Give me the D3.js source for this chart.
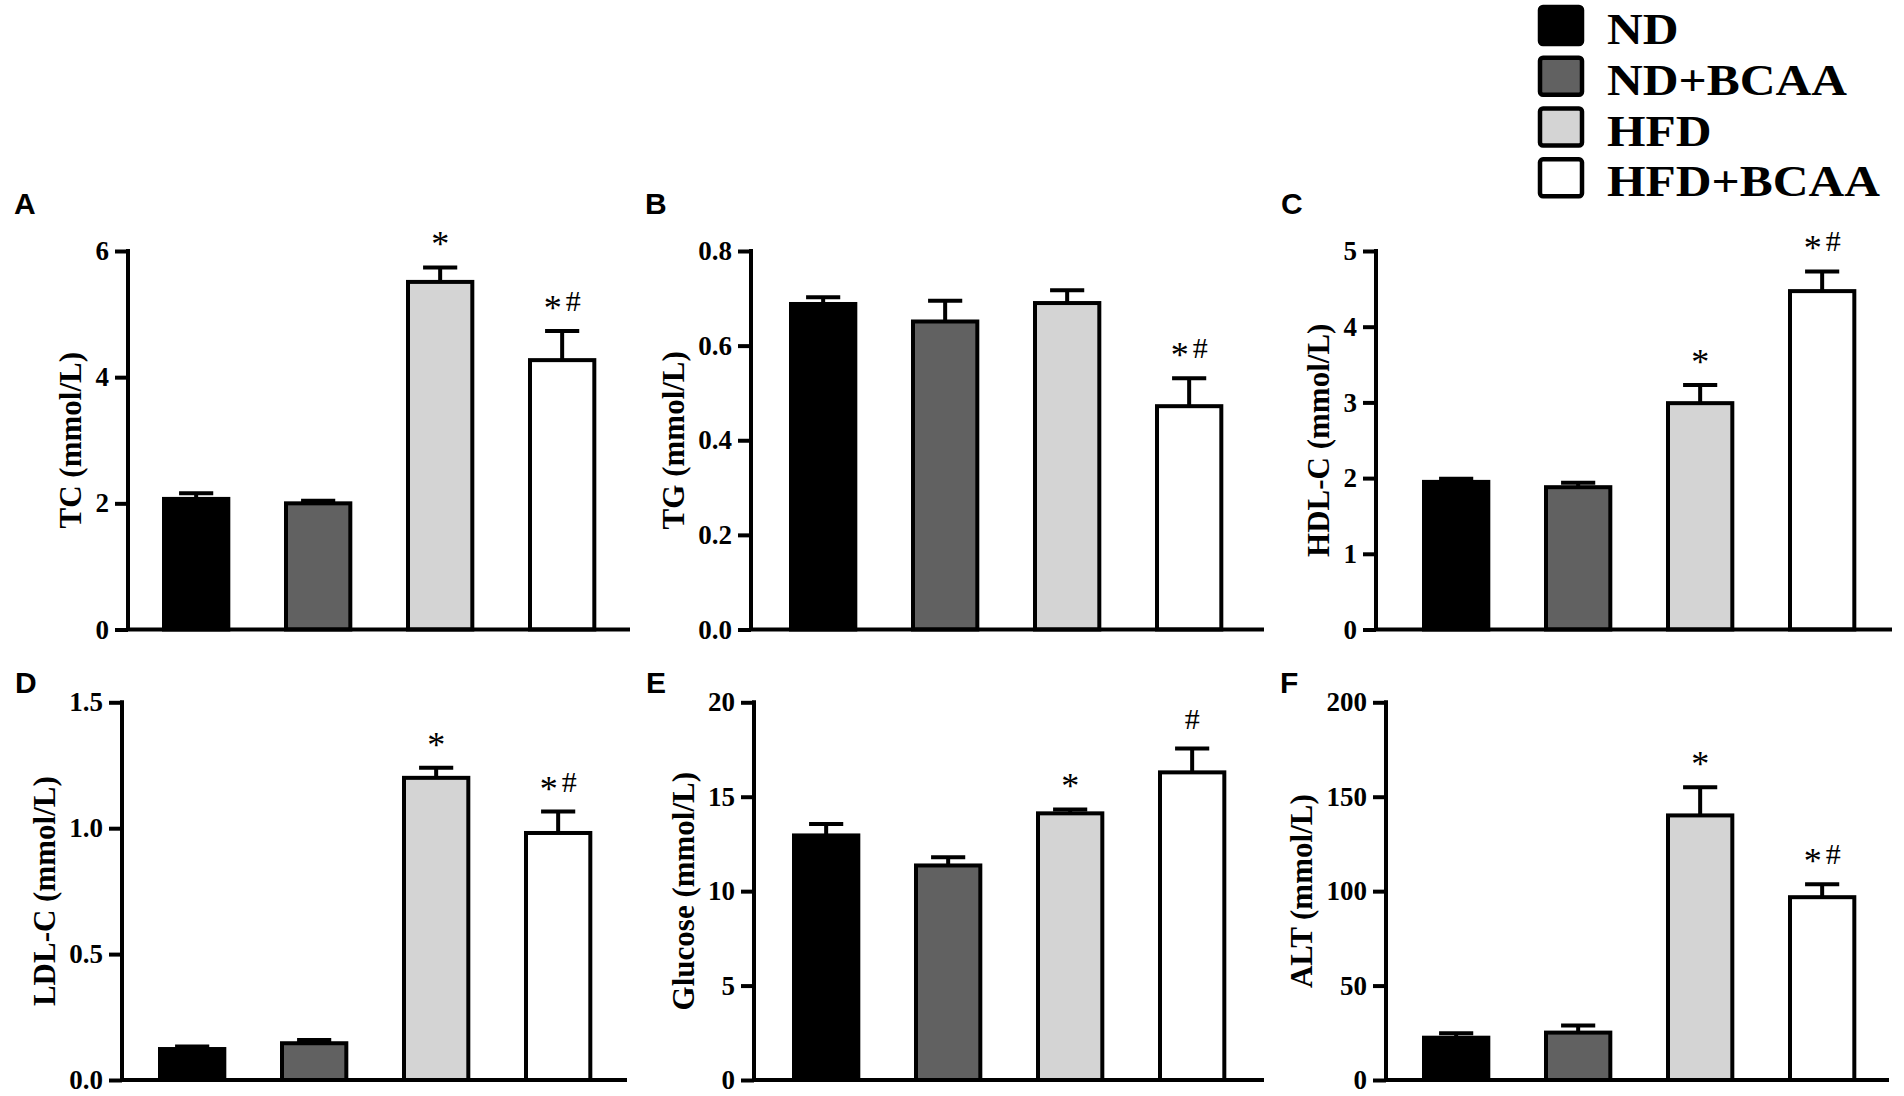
<!DOCTYPE html>
<html>
<head>
<meta charset="utf-8">
<script src="https://cdn.jsdelivr.net/npm/d3@7"></script>
<style>
  body { margin: 0; background: #fff; }
  svg { display: block; }
</style>
</head>
<body>
<script>
const svgWidth = 1904
const svgHeight = 1096

// data
const groups = ["ND", "ND+BCAA", "HFD", "HFD+BCAA"]
const fills = ["#000000", "#616161", "#d4d4d4", "#ffffff"]
const panelLetters = ["A", "B", "C", "D", "E", "F"]
const yTitles = ["TC (mmol/L)", "TG (mmol/L)", "HDL-C (mmol/L)", "LDL-C (mmol/L)", "Glucose (mmol/L)", "ALT (mmol/L)"]
const yMax = [6, 0.8, 5, 1.5, 20, 200]
const yTicks = [
    [0, 2, 4, 6],
    [0, 0.2, 0.4, 0.6, 0.8],
    [0, 1, 2, 3, 4, 5],
    [0, 0.5, 1, 1.5],
    [0, 5, 10, 15, 20],
    [0, 50, 100, 150, 200]
]
const tickFormats = ["d", ".1f", "d", ".1f", "d", "d"]
const means = [
    [2.07, 2.00, 5.51, 4.27],
    [0.688, 0.651, 0.690, 0.472],
    [1.95, 1.88, 2.99, 4.47],
    [0.123, 0.146, 1.200, 0.981],
    [12.95, 11.36, 14.12, 16.29],
    [22.4, 25.1, 140.1, 96.8]
]
const sems = [
    [0.09, 0.04, 0.23, 0.46],
    [0.014, 0.044, 0.027, 0.059],
    [0.04, 0.06, 0.24, 0.26],
    [0.010, 0.013, 0.040, 0.085],
    [0.60, 0.43, 0.21, 1.26],
    [2.3, 3.7, 14.9, 6.9]
]
const marks = [
    ["", "", "*", "*#"],
    ["", "", "", "*#"],
    ["", "", "*", "*#"],
    ["", "", "*", "*#"],
    ["", "", "*", "#"],
    ["", "", "*", "*#"]
]

// panel layout (pixels)
const rows = [{ top: 251, bottom: 629.5, letterY: 214 }, { top: 702.3, bottom: 1080, letterY: 693 }]
const layout = [
    { ax: 128, bar0: 162, end: 630, lx: 14 },
    { ax: 751, bar0: 789, end: 1264, lx: 645 },
    { ax: 1376, bar0: 1422, end: 1892, lx: 1281 },
    { ax: 122, bar0: 158, end: 627, lx: 15 },
    { ax: 754, bar0: 792, end: 1264, lx: 646 },
    { ax: 1386, bar0: 1422, end: 1889, lx: 1280 }
]
const barStep = 122
const serif = "'Liberation Serif', 'Times New Roman', serif"

const svg = d3.select("body").append("svg")
    .attr("width", svgWidth)
    .attr("height", svgHeight)

layout.forEach((L, i) => {
    const row = rows[Math.floor(i / 3)]
    const g = svg.append("g")

    const yScale = d3.scaleLinear()
        .domain([0, yMax[i]])
        .range([row.bottom, row.top])
    const xScale = d3.scaleBand()
        .domain(groups)
        .range([L.bar0 - barStep * 0.22, L.bar0 - barStep * 0.22 + 4 * barStep])
        .paddingInner(0.44)
        .paddingOuter(0.22)
    const bw = xScale.bandwidth()

    // y axis
    const yAxis = g.append("g")
        .attr("transform", `translate(${L.ax},0)`)
        .call(d3.axisLeft(yScale).tickValues(yTicks[i]).tickFormat(d3.format(tickFormats[i])).tickSize(13).tickPadding(6))
    yAxis.select(".domain").remove()
    yAxis.selectAll(".tick line").attr("stroke", "#000").attr("stroke-width", 4)
    yAxis.selectAll(".tick text")
        .attr("fill", "#000")
        .attr("font-family", serif)
        .attr("font-weight", "bold")
        .attr("font-size", 27)
    g.append("line")
        .attr("x1", L.ax).attr("x2", L.ax)
        .attr("y1", row.top - 2).attr("y2", row.bottom)
        .attr("stroke", "#000").attr("stroke-width", 4)

    // bars
    g.selectAll(".bar")
        .data(groups)
        .join("rect")
        .attr("class", "bar")
        .attr("x", (d) => xScale(d) + 2)
        .attr("width", bw - 4)
        .attr("y", (d, j) => yScale(means[i][j]))
        .attr("height", (d, j) => yScale(0) - yScale(means[i][j]))
        .attr("fill", (d, j) => fills[j])
        .attr("stroke", "#000")
        .attr("stroke-width", 4)

    // error bars (upper only)
    g.selectAll(".err")
        .data(groups)
        .join("path")
        .attr("class", "err")
        .attr("d", (d, j) => {
            const cx = xScale(d) + bw / 2
            const y0 = yScale(means[i][j])
            const y1 = yScale(means[i][j] + sems[i][j])
            return `M${cx},${y0}V${y1}M${cx - bw / 4},${y1}H${cx + bw / 4}`
        })
        .attr("fill", "none")
        .attr("stroke", "#000")
        .attr("stroke-width", 4)

    // x axis line
    g.append("line")
        .attr("x1", L.ax - 2).attr("x2", L.end)
        .attr("y1", yScale(0)).attr("y2", yScale(0))
        .attr("stroke", "#000").attr("stroke-width", 4)

    // significance marks
    const mk = g.selectAll(".mark")
        .data(groups)
        .join("text")
        .attr("class", "mark")
        .attr("x", (d) => xScale(d) + bw / 2)
        .attr("y", (d, j) => yScale(means[i][j] + sems[i][j]) - 11)
        .attr("text-anchor", "middle")
        .attr("font-family", serif)
        .attr("fill", "#000")
    mk.each(function (d, j) {
        const t = d3.select(this)
        marks[i][j].split("").forEach((ch, k) => {
            const sp = t.append("tspan").text(ch)
            if (ch === "#") sp.attr("font-size", 30).attr("dy", -9).attr("dx", k > 0 ? 4 : 0)
            else sp.attr("font-size", 36)
        })
    })

    // y title, placed left of the tick labels
    const bb = yAxis.node().getBBox()
    const tx = L.ax + bb.x - 25
    const ty = (row.top + row.bottom) / 2
    g.append("text")
        .attr("transform", `translate(${tx},${ty}) rotate(-90)`)
        .attr("dy", "0.35em")
        .attr("text-anchor", "middle")
        .attr("font-family", serif)
        .attr("font-weight", "bold")
        .attr("font-size", 31)
        .text(yTitles[i])

    // panel letter
    svg.append("text")
        .attr("x", L.lx)
        .attr("y", row.letterY)
        .attr("font-family", "'Liberation Sans', Arial, sans-serif")
        .attr("font-weight", "bold")
        .attr("font-size", 30)
        .text(panelLetters[i])
})

// legend
const legendY = d3.scaleBand().domain(groups).range([5, 200]).paddingInner(0.16)
const legend = svg.append("g")
legend.selectAll("rect")
    .data(groups)
    .join("rect")
    .attr("x", 1540)
    .attr("y", (d) => legendY(d) + 2)
    .attr("width", 42)
    .attr("height", 37)
    .attr("rx", 3)
    .attr("fill", (d, j) => fills[j])
    .attr("stroke", "#000")
    .attr("stroke-width", 4.5)
legend.selectAll("text")
    .data(groups)
    .join("text")
    .attr("transform", (d) => `translate(1607,${legendY(d) + 39}) scale(1.1,1)`)
    .attr("font-family", serif)
    .attr("font-weight", "bold")
    .attr("font-size", 45)
    .text((d) => d)
</script>
</body>
</html>
